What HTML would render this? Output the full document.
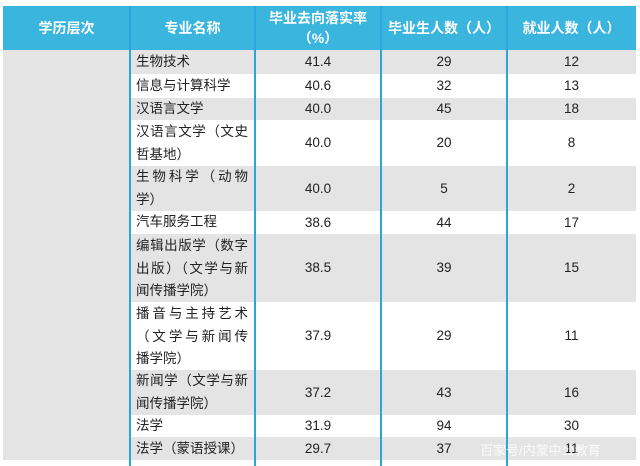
<!DOCTYPE html><html><head><meta charset="utf-8"><style>
body{margin:0;width:640px;height:466px;background:#fff;position:relative;overflow:hidden;font-family:"Liberation Sans","Noto Sans CJK SC",sans-serif;}
.a{position:absolute}
.hd{position:absolute;top:6px;height:44px;background:#3ab5de;left:3px;width:633px}
.ht{position:absolute;color:#fff;font-weight:bold;font-size:14px;text-align:center;line-height:20px}
.r{position:absolute;left:130px;width:506px}
.g{background:#e4e4e4}
.n{position:absolute;left:136px;width:112px;font-size:13.5px;color:#222;line-height:22.5px}
.j{text-align:justify;text-align-last:justify}
.v{position:absolute;font-size:13.5px;color:#222;text-align:center}
.vl{position:absolute;top:6px;bottom:0;width:2px;background:#2ba6d9}
</style></head><body>
<div class="hd"></div>
<div class="a g" style="left:3px;top:50px;width:127px;height:410px"></div>
<div class="ht" style="left:3px;width:127px;top:18px">学历层次</div>
<div class="ht" style="left:130px;width:125px;top:18px">专业名称</div>
<div class="ht" style="left:255px;width:126px;top:8px">毕业去向落实率<br>（%）</div>
<div class="ht" style="left:381px;width:126px;top:18px">毕业生人数（人）</div>
<div class="ht" style="left:507px;width:129px;top:18px">就业人数（人）</div>

<div class="r g" style="top:50px;height:24px"></div>
<div class="r g" style="top:98px;height:22px"></div>
<div class="r g" style="top:166px;height:45px"></div>
<div class="r g" style="top:234px;height:68px"></div>
<div class="r g" style="top:370px;height:45px"></div>
<div class="r g" style="top:437px;height:23px"></div>

<div class="n" style="top:51px">生物技术</div>
<div class="n" style="top:75px">信息与计算科学</div>
<div class="n" style="top:98px">汉语言文学</div>
<div class="n" style="top:121px"><div class="j">汉语言文学（文史</div>哲基地）</div>
<div class="n" style="top:166px"><div class="j">生物科学（动物</div>学）</div>
<div class="n" style="top:211px">汽车服务工程</div>
<div class="n" style="top:235px"><div class="j">编辑出版学（数字</div><div class="j">出版）（文学与新</div>闻传播学院）</div>
<div class="n" style="top:303px"><div class="j">播音与主持艺术</div><div class="j">（文学与新闻传</div>播学院）</div>
<div class="n" style="top:370px"><div class="j">新闻学（文学与新</div>闻传播学院）</div>
<div class="n" style="top:415px">法学</div>
<div class="n" style="top:438px">法学（蒙语授课）</div>

<div id="vals"></div>
<script>
var rows=[[50,74,"41.4","29","12"],[74,98,"40.6","32","13"],[98,120,"40.0","45","18"],[120,166,"40.0","20","8"],[166,211,"40.0","5","2"],[211,234,"38.6","44","17"],[234,302,"38.5","39","15"],[302,370,"37.9","29","11"],[370,415,"37.2","43","16"],[415,437,"31.9","94","30"],[437,460,"29.7","37","11"]];
var cols=[[255,126],[381,126],[507,129]];var h="";
rows.forEach(function(r){for(var i=0;i<3;i++){h+='<div class="v" style="left:'+cols[i][0]+'px;width:'+cols[i][1]+'px;top:'+r[0]+'px;height:'+(r[1]-r[0])+'px;line-height:'+(r[1]-r[0])+'px">'+r[2+i]+'</div>';}});
document.getElementById("vals").innerHTML=h;
</script>
<div class="vl" style="left:129px"></div>
<div class="vl" style="left:254px"></div>
<div class="vl" style="left:380px"></div>
<div class="vl" style="left:506px"></div>
<div class="a" style="left:480px;top:440px;font-size:13px;color:rgba(255,255,255,0.85)">百家号/内蒙中公教育</div>
</body></html>
